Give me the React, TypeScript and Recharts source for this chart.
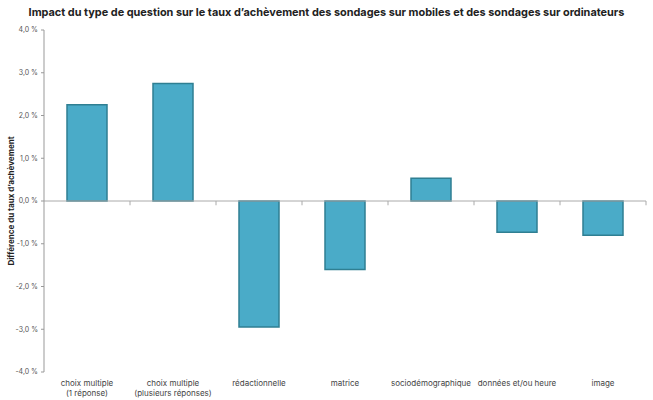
import { BarChart, Bar, XAxis, YAxis, ReferenceLine, Label } from "recharts";

const categories = [
  "choix multiple\n(1 réponse)",
  "choix multiple\n(plusieurs réponses)",
  "rédactionnelle",
  "matrice",
  "sociodémographique",
  "données et/ou heure",
  "image",
];
const differences = [2.25, 2.75, -2.95, -1.6, 0.53, -0.73, -0.8];
const yTicks = [-4, -3, -2, -1, 0, 1, 2, 3, 4];

const data = categories.map((c, i) => ({ name: c, value: differences[i] }));

const FONT = "Inter, 'Noto Sans', sans-serif";

function formatPct(v: number): string {
  return `${v.toFixed(1).replace(".", ",")} %`;
}

function CategoryTick({ x, y, payload }: { x?: number; y?: number; payload?: { value: string } }) {
  const lines = String(payload?.value ?? "").split("\n");
  return (
    <text x={x} y={y} textAnchor="middle" fontSize={8} fill="#444" fontFamily={FONT}>
      {lines.map((l, i) => (
        <tspan key={i} x={x} dy={i === 0 ? 6 : 10}>{l}</tspan>
      ))}
    </text>
  );
}

function AxisTitle({ viewBox }: { viewBox?: { x: number; y: number; width: number; height: number } }) {
  if (!viewBox) return null;
  const cy = viewBox.y + viewBox.height / 2;
  return (
    <text
      x={14}
      y={cy}
      transform={`rotate(-90, 14, ${cy})`}
      textAnchor="middle"
      fontSize={8}
      fontWeight={700}
      fill="#222"
      fontFamily={FONT}
    >
      Différence du taux d’achèvement
    </text>
  );
}

export default function App() {
  return (
    <div style={{ width: 653, height: 400, position: "relative", background: "#fff", fontFamily: FONT }}>
      <style>{`body{margin:0}`}</style>
      <div
        style={{
          position: "absolute",
          top: 5,
          left: 0,
          width: 653,
          textAlign: "center",
          fontSize: 10.9,
          fontWeight: 700,
          color: "#222",
          whiteSpace: "nowrap",
        }}
      >
        Impact du type de question sur le taux d’achèvement des sondages sur mobiles et des sondages sur ordinateurs
      </div>
      <BarChart
        width={653}
        height={400}
        data={data}
        margin={{ top: 30, right: 7, bottom: 0, left: 0 }}
        barSize={40}
      >
        <XAxis
          dataKey="name"
          interval={0}
          axisLine={false}
          tickLine={false}
          height={28}
          tick={<CategoryTick />}
        />
        <YAxis
          width={44}
          domain={[-4, 4]}
          ticks={yTicks}
          tickFormatter={(v) => formatPct(Number(v))}
          tick={{ fontSize: 7, fill: "#555", fontFamily: FONT }}
          tickSize={3}
          tickMargin={3}
          stroke="#999"
        >
          <Label content={<AxisTitle />} />
        </YAxis>
        <ReferenceLine y={0} stroke="#aaa" />
        {categories.map((c) => (
          <ReferenceLine
            key={c}
            position="end"
            segment={[{ x: c, y: 0 }, { x: c, y: -0.1 }]}
            stroke="#aaa"
          />
        ))}
        <Bar dataKey="value" fill="#4aabc8" stroke="#2f7f92" strokeWidth={1.5} isAnimationActive={false} />
      </BarChart>
    </div>
  );
}
